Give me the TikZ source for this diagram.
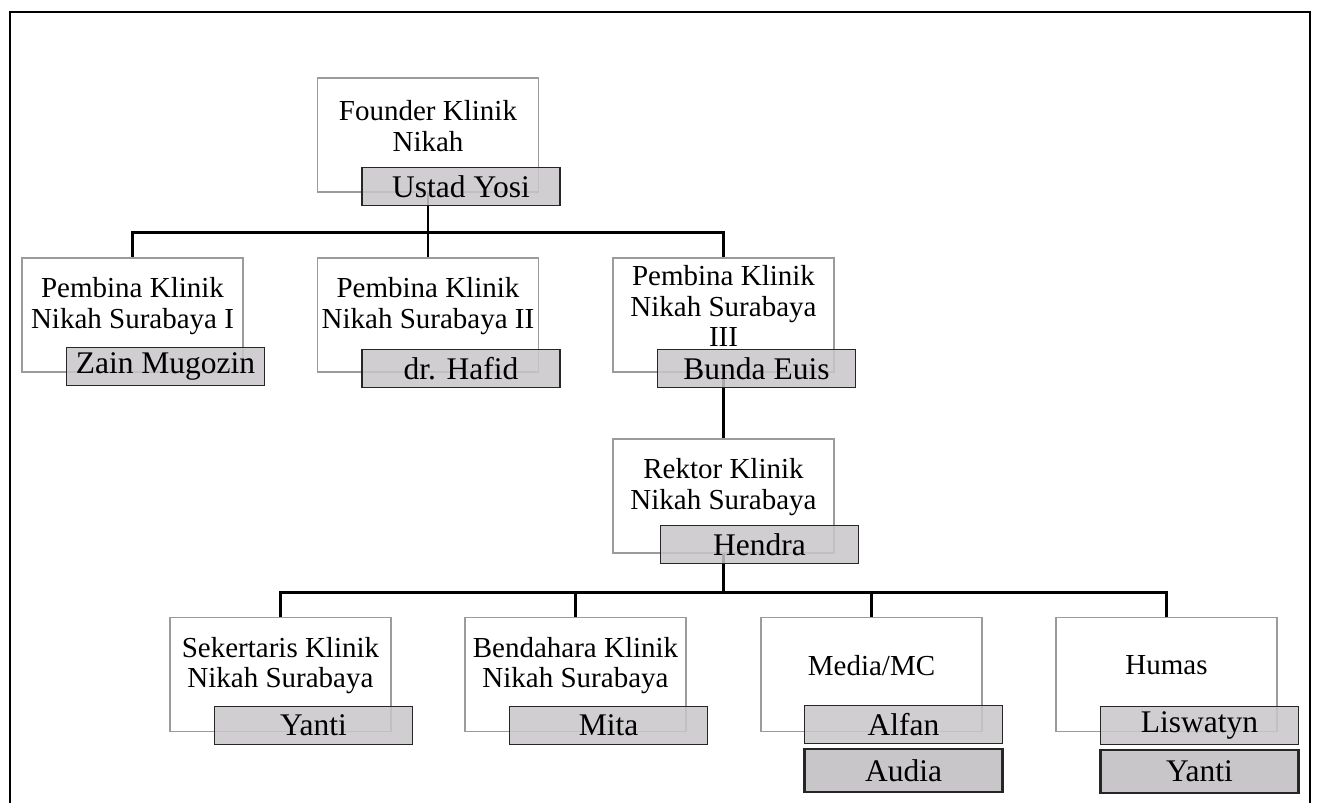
\documentclass[tikz,border=0pt]{standalone}
\usepackage{fontspec}
\setmainfont{Liberation Serif}
\usepackage{tikz}
\usetikzlibrary{positioning}
\definecolor{abu}{RGB}{200,198,200}
\definecolor{bingkai}{RGB}{155,155,155}
\tikzset{
  kotak/.style={draw=bingkai, line width=1.4pt, minimum width=221pt, minimum height=114pt, inner sep=0pt},
  judul/.style={align=center, inner sep=0pt, font=\fontsize{29}{30.5}\selectfont},
  nama/.style={draw=black!85, line width=1.4pt, fill=abu, fill opacity=0.85, text opacity=1,
    minimum width=198pt, minimum height=38pt, inner sep=0pt, font=\fontsize{31.5}{31.5}\selectfont},
  tebal/.style={line width=2.4pt, minimum height=43pt, fill opacity=1},
  garis/.style={line width=2.6pt}
}

\begin{document}
\begin{tikzpicture}[x=1pt,y=-1pt]
    \useasboundingbox (0,0) rectangle (1318,803);
    \draw[line width=2.8pt] (10,803) -- (10,12) -- (1310,12) -- (1310,803);

    \node[kotak] (founder)    at (428,135)      {};
    \node[kotak] (pembina1)   at (132.5,315)    {};
    \node[kotak] (pembina2)   at (428,315)      {};
    \node[kotak] (pembina3)   at (723.5,315)    {};
    \node[kotak] (rektor)     at (723.5,496)    {};
    \node[kotak] (sekertaris) at (280.5,674.5)  {};
    \node[kotak] (bendahara)  at (575.5,674.5)  {};
    \node[kotak] (media)      at (871.5,674.5)  {};
    \node[kotak] (humas)      at (1166.5,674.5) {};

    \node[judul] (founder-t)    at ([yshift=9pt]founder.center)    {Founder Klinik\\Nikah};
    \node[judul] (pembina1-t)   at ([yshift=9pt]pembina1.center)   {Pembina Klinik\\Nikah Surabaya I};
    \node[judul] (pembina2-t)   at ([yshift=9pt]pembina2.center)   {Pembina Klinik\\Nikah Surabaya II};
    \node[judul] (pembina3-t)   at ([yshift=9pt]pembina3.center)   {Pembina Klinik\\Nikah Surabaya\\III};
    \node[judul] (rektor-t)     at ([yshift=9pt]rektor.center)     {Rektor Klinik\\Nikah Surabaya};
    \node[judul] (sekertaris-t) at ([yshift=9pt]sekertaris.center) {Sekertaris Klinik\\Nikah Surabaya};
    \node[judul] (bendahara-t)  at ([yshift=9pt]bendahara.center)  {Bendahara Klinik\\Nikah Surabaya};
    \node[judul] (media-t)      at ([yshift=9pt]media.center)      {Media/MC};
    \node[judul] (humas-t)      at ([yshift=9pt]humas.center)      {Humas};

    \draw[garis] (founder.south) -- ++(0,40) -| (pembina1.north);
    \draw[garis] (founder.south) -- (pembina2.north);
    \draw[garis] (founder.south) -- ++(0,40) -| (pembina3.north);
    \draw[garis] (pembina3.south) -- (rektor.north);
    \draw[garis] (rektor.south) -- ++(0,39) -| (sekertaris.north);
    \draw[garis] (rektor.south) -- ++(0,39) -| (bendahara.north);
    \draw[garis] (rektor.south) -- ++(0,39) -| (media.north);
    \draw[garis] (rektor.south) -- ++(0,39) -| (humas.north);

    \node[nama] (yosi)     at ([shift={(33,-6)}]founder.south)    {Ustad Yosi};
    \node[nama] (zain)     at ([shift={(33,-6)}]pembina1.south)   {Zain Mugozin};
    \node[nama] (hafid)    at ([shift={(33,-4)}]pembina2.south)   {dr. Hafid};
    \node[nama] (euis)     at ([shift={(33,-4)}]pembina3.south)   {Bunda Euis};
    \node[nama] (hendra)   at ([shift={(36,-9)}]rektor.south)     {Hendra};
    \node[nama] (yanti)    at ([shift={(33,-7)}]sekertaris.south) {Yanti};
    \node[nama] (mita)     at ([shift={(33,-7)}]bendahara.south)  {Mita};
    \node[nama] (alfan)    at ([shift={(32,-8)}]media.south)      {Alfan};
    \node[nama] (liswatyn) at ([shift={(33,-7)}]humas.south)      {Liswatyn};
    \node[nama, tebal, below=4pt of alfan]    (audia)  {Audia};
    \node[nama, tebal, below=4pt of liswatyn] (yanti2) {Yanti};
\end{tikzpicture}
\end{document}
